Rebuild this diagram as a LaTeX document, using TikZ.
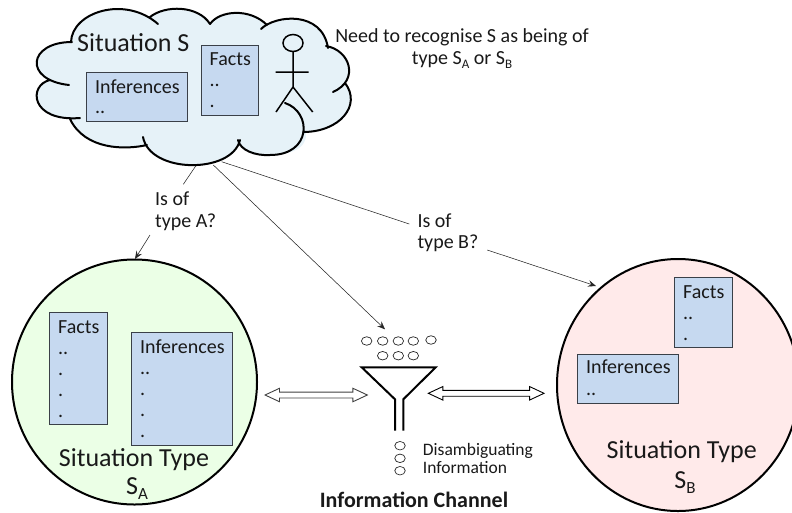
\documentclass[tikz,border=0pt]{standalone}
\usepackage{fontspec}
\setmainfont{Carlito}
\usetikzlibrary{arrows.meta,shapes.arrows,shapes.geometric}
\definecolor{cloudfill}{HTML}{E6F2F8}
\definecolor{boxfill}{HTML}{C6D9F0}
\definecolor{boxline}{HTML}{3A4048}
\definecolor{afill}{HTML}{EBFFE6}
\definecolor{bfill}{HTML}{FFEAEA}
\newcommand{\sbs}[2]{\raisebox{-0.22em}{\fontsize{#1}{#1}\selectfont #2}}
\newcommand{\cloudarcs}{(71,42) .. controls (72,12) and (125,-5) .. (158,24)
 (150,17) .. controls (165,5) and (198,5) .. (210,24)
 (210,24) .. controls (220,10) and (250,8) .. (267,25)
 (261,29) .. controls (275,15) and (322,10) .. (328,48)
 (326,46) .. controls (350,50) and (360,80) .. (333,92)
 (345,83) .. controls (362,105) and (340,132) .. (303,132)
 (285,103) .. controls (312,112) and (312,155) .. (270,155) .. controls (255,156) and (240,150) .. (238,140)
 (240,140) .. controls (232,174) and (150,174) .. (143,137)
 (147,145) .. controls (125,150) and (85,150) .. (70,119)
 (80,118) .. controls (30,122) and (28,85) .. (50,80)
 (69,85) .. controls (23,80) and (28,42) .. (72,42)}
\newcommand{\cloudoutline}{(71,42) .. controls (72,12) and (125,-5) .. (158,24)
 -- (150,17) .. controls (165,5) and (198,5) .. (210,24)
 .. controls (220,10) and (250,8) .. (267,25)
 -- (261,29) .. controls (275,15) and (322,10) .. (328,48)
 -- (326,46) .. controls (350,50) and (360,80) .. (333,92)
 -- (345,83) .. controls (362,105) and (340,132) .. (303,132)
 -- (304,127) .. controls (312,145) and (295,155) .. (270,155) .. controls (255,156) and (240,150) .. (238,140)
 -- (240,140) .. controls (232,174) and (150,174) .. (143,137)
 -- (147,145) .. controls (125,150) and (85,150) .. (70,119)
 -- (80,118) .. controls (30,122) and (28,85) .. (50,80)
 -- (69,85) .. controls (23,80) and (28,42) .. (72,42) -- cycle}
\tikzset{
  x=1pt,y=-1pt,
  txt/.style={anchor=base west,inner sep=0,font=\fontsize{20}{24}\selectfont,text=black!90,yshift=-0.7pt},
  bigtxt/.style={anchor=base,inner sep=0,font=\fontsize{26}{30}\selectfont,text=black!90,yshift=-1pt},
  smalltxt/.style={txt,font=\fontsize{17.5}{21}\selectfont},
  infobox/.style={draw=boxline,fill=boxfill,line width=0.9pt},
  thinline/.style={line width=0.55pt,draw=black!85},
  tiparrow/.style={thinline,-{Stealth[length=8pt,width=6.5pt,inset=3pt]}},
  bead/.style={draw=black!85,line width=0.7pt,ellipse,minimum width=10.5pt,minimum height=8.5pt,inner sep=0},
  bold line/.style={line width=2pt,draw=black},
  dblarrow/.style={draw,fill=white,line width=0.9pt,double arrow,double arrow tip angle=50,double arrow head extend=3.8pt,inner sep=0},
}
\begin{document}
\begin{tikzpicture}
\useasboundingbox (0,0) rectangle (792,512);
\clip (0,0) rectangle (792,512);
% cloud
\fill[cloudfill] \cloudoutline;
\fill[cloudfill] (75,45) -- (150,25) -- (260,30) -- (325,50) -- (340,90) -- (300,128) -- (240,138) -- (145,138) -- (80,115) -- (60,85) -- cycle;
\draw[bold line,line cap=round] \cloudarcs;
% person
\draw[line width=1.5pt] (293,43) ellipse [x radius=10,y radius=8.5];
\coordinate (neck) at (293,52);
\coordinate (hip) at (293,87);
\coordinate (armL) at (275.5,72);
\coordinate (armR) at (308.5,72);
\coordinate (legL) at (276,112);
\coordinate (legR) at (312.7,112);
\draw[line width=1.5pt] (neck) -- (hip) (armL) -- (armR) (legL) -- (hip) -- (legR);
% cloud contents
\node[bigtxt,anchor=base west,yshift=1pt] (sitS) at (77,51) {Situation S};
\draw[infobox] (86.5,72.5) rectangle (187.5,121.5);
\node[txt] (inf1) at (95,93) {Inferences};
\node[txt] (inf1a) at (95,113) {..};
\draw[infobox] (201,45) rectangle (258.5,115.5);
\node[txt] (fac1) at (209.5,65) {Facts};
\node[txt] (fac1a) at (209.5,86) {..};
\node[txt] (fac1b) at (209.5,107) {.};
\node[txt,anchor=base] (need1) at (462,41.7) {Need to recognise S as being of};
\node[txt,anchor=base] (need2) at (462,63.3) {type S\sbs{13}{A} or S\sbs{13}{B}};
% circles
\node[draw,fill=afill,line width=2pt,ellipse,minimum width=245pt,minimum height=245pt,inner sep=0] (circA) at (134.5,382) {};
\node[draw,fill=bfill,line width=2pt,ellipse,minimum width=242pt,minimum height=252pt,inner sep=0] (circB) at (678,385) {};
% circle A
\draw[infobox] (49.7,312.3) rectangle (107,424.3);
\node[txt] (facA) at (58,333) {Facts};
\node[txt] (facA1) at (58,354) {..};
\node[txt] (facA2) at (58,375) {.};
\node[txt] (facA3) at (58,396) {.};
\node[txt] (facA4) at (58,417) {.};
\draw[infobox] (131.3,332.7) rectangle (232.3,445.3);
\node[txt] (infA) at (140,353) {Inferences};
\node[txt] (infA1) at (140,374) {..};
\node[txt] (infA2) at (140,395) {.};
\node[txt] (infA3) at (140,416) {.};
\node[txt] (infA4) at (140,437) {.};
\node[bigtxt] (typeA) at (134,465) {Situation Type};
\node[bigtxt] (typeAs) at (137,493) {S\sbs{17}{A}};
% circle B
\draw[infobox] (674.7,277.3) rectangle (732.3,347.3);
\node[txt] (facB) at (683,298) {Facts};
\node[txt] (facB1) at (683,319) {..};
\node[txt] (facB2) at (683,340) {.};
\draw[infobox] (577.7,354.3) rectangle (678.7,403.3);
\node[txt] (infB) at (586,373) {Inferences};
\node[txt] (infB1) at (586,395) {..};
\node[bigtxt] (typeB) at (681.7,457) {Situation Type};
\node[bigtxt] (typeBs) at (685,487) {S\sbs{17}{B}};
% labels
\node[txt] (isA1) at (155,205) {Is of};
\node[txt] (isA2) at (155,226.7) {type A?};
\node[txt] (isB1) at (417.3,227) {Is of};
\node[txt] (isB2) at (417.3,248) {type B?};
% connectors
\coordinate (cA) at (195.7,166);
\coordinate (cAe) at (183.3,184.3);
\coordinate (aS) at (150,235);
\coordinate (aE) at (135,259);
\coordinate (cM) at (213.3,165);
\coordinate (mE) at (385,329.3);
\coordinate (cB) at (221.7,161.7);
\coordinate (cBe) at (409.3,224);
\coordinate (bS) at (487.3,250);
\coordinate (bE) at (596,286);
\draw[thinline] (cA) -- (cAe);
\draw[tiparrow] (aS) -- (aE);
\draw[tiparrow] (cM) -- (mE);
\draw[thinline] (cB) -- (cBe);
\draw[tiparrow] (bS) -- (bE);
% funnel
\coordinate (fTL) at (361.7,367.3);
\coordinate (fTR) at (435.7,367.3);
\coordinate (fNL) at (395,399.3);
\coordinate (fNR) at (403.3,399.3);
\coordinate (fBL) at (395,430.7);
\coordinate (fBR) at (403.3,430.7);
\draw[bold line,line join=miter] (fBL) -- (fNL) -- (fTL) -- (fTR) -- (fNR) -- (fBR);
% beads
\node[bead] (b1) at (366.7,341) {};
\node[bead] (b2) at (382.7,341) {};
\node[bead] (b3) at (398.3,341) {};
\node[bead] (b4) at (413.3,341) {};
\node[bead] (b5) at (431,340) {};
\node[bead] (b6) at (382.7,355.7) {};
\node[bead] (b7) at (398.3,355.7) {};
\node[bead] (b8) at (413.3,355.7) {};
\node[bead] (b9) at (400,445.7) {};
\node[bead] (b10) at (400,458.3) {};
\node[bead] (b11) at (400,470.7) {};
% double arrows
\node[dblarrow,draw=black!75,minimum height=102.3pt] (dblL) at (316.2,395) {\rule{0pt}{5pt}};
\node[dblarrow,minimum height=115.7pt] (dblR) at (486.2,393.3) {\rule{0pt}{5pt}};
% channel text
\node[smalltxt] (dis1) at (422.7,455) {Disambiguating};
\node[smalltxt] (dis2) at (422.7,472.7) {Information};
\node[txt,anchor=base,font=\bfseries\fontsize{22}{26}\selectfont] (chan) at (414,506.7) {Information Channel};
\end{tikzpicture}
\end{document}
